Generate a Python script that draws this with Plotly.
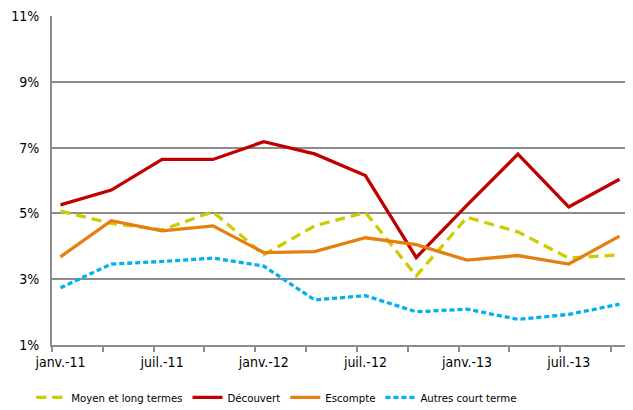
import plotly.graph_objects as go

categories = ["janv.-11", "avr.-11", "juil.-11", "oct.-11",
              "janv.-12", "avr.-12", "juil.-12", "oct.-12",
              "janv.-13", "avr.-13", "juil.-13", "oct.-13"]
tick_labels = ["janv.-11", "juil.-11", "janv.-12", "juil.-12", "janv.-13", "juil.-13"]

moyen_long = [5.07, 4.70, 4.50, 5.05, 3.74, 4.62, 5.03, 3.10, 4.88, 4.44, 3.64, 3.74]
decouvert = [5.26, 5.71, 6.64, 6.64, 7.18, 6.81, 6.15, 3.66, 5.25, 6.80, 5.20, 6.04]
escompte = [3.68, 4.78, 4.47, 4.62, 3.81, 3.84, 4.26, 4.05, 3.58, 3.72, 3.46, 4.31]
autres_ct = [2.74, 3.46, 3.54, 3.64, 3.40, 2.37, 2.50, 2.01, 2.09, 1.78, 1.93, 2.24]

y_ticks = [1, 3, 5, 7, 9, 11]

x = list(range(len(categories)))
FONT = "DejaVu Sans Condensed, DejaVu Sans, sans-serif"
GRID = "#8c8c8c"

fig = go.Figure()
series = [
    ("Moyen et long termes", moyen_long, "#cccc00", "10px,6px"),
    ("Découvert", decouvert, "#c00000", "solid"),
    ("Escompte", escompte, "#e47f10", "solid"),
    ("Autres court terme", autres_ct, "#00b0f0", "5px,3px"),
]
for name, vals, color, dash in series:
    fig.add_trace(go.Scatter(
        x=x, y=vals, name=name, mode="lines",
        line=dict(color=color, width=3.3, dash=dash),
        hoverinfo="skip",
    ))

tick_pos = [categories.index(t) for t in tick_labels]
off = 1 / 6
# page body has an 8px default margin: figure is sized to fit the 633x410 window
fig.update_layout(
    width=625, height=402,
    margin=dict(l=44, r=5, t=8, b=65, autoexpand=False),
    paper_bgcolor="white", plot_bgcolor="white",
    font=dict(family=FONT, size=14, color="#000000"),
    showlegend=True,
    legend=dict(orientation="h", x=-0.036, xanchor="left", y=-0.115, yanchor="top",
                font=dict(family=FONT, size=11.3, color="#000000"),
                itemwidth=30, tracegroupgap=0),
    xaxis=dict(
        range=[-off, len(categories) - 1 + off],
        tickvals=tick_pos, ticktext=tick_labels,
        ticks="", showgrid=False, zeroline=False, automargin=False,
        showline=True, linecolor=GRID, linewidth=2,
        tickfont=dict(size=14), ticklabelstandoff=3,
        ticklabeloverflow="allow",
        minor=dict(tickvals=[i - off for i in x], ticks="outside", ticklen=5,
                   tickcolor=GRID, tickwidth=1.5, showgrid=False),
    ),
    yaxis=dict(
        range=[1, 11.001], tickvals=y_ticks, ticktext=[f"{v}%" for v in y_ticks],
        showgrid=True, gridcolor=GRID, gridwidth=2, automargin=False,
        zeroline=False, showline=True, linecolor=GRID, linewidth=2,
        ticks="", ticklen=0, tickfont=dict(size=14), ticklabelstandoff=8,
        ticklabeloverflow="allow",
    ),
)

fig.write_html("out.html")
